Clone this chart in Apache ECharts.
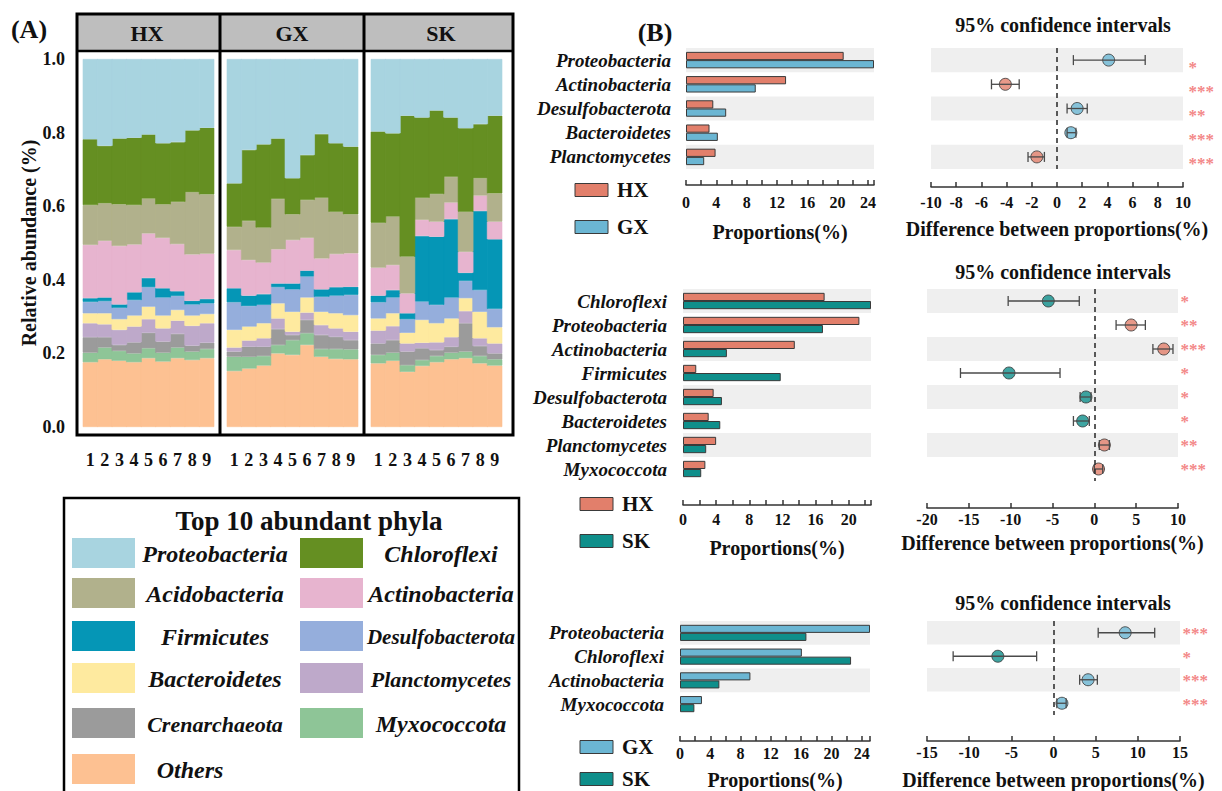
<!DOCTYPE html>
<html>
<head>
<meta charset="utf-8">
<title>Phylum composition and pairwise differences</title>
<script src="https://cdn.jsdelivr.net/npm/echarts@6/dist/echarts.min.js"></script>
<style>
  html, body { margin: 0; padding: 0; background: #ffffff; }
  #chart { width: 1222px; height: 791px; }
</style>
</head>
<body>
<div id="chart"></div>
<script>
// ---------------------------------------------------------------------------
// Data
// ---------------------------------------------------------------------------
const SITES = ['HX', 'GX', 'SK'];
const SAMPLES = ['1', '2', '3', '4', '5', '6', '7', '8', '9'];

// Stack order, bottom to top
const PHYLA = ['Others', 'Myxococcota', 'Crenarchaeota', 'Planctomycetes', 'Bacteroidetes',
  'Desulfobacterota', 'Firmicutes', 'Actinobacteria', 'Acidobacteria', 'Chloroflexi', 'Proteobacteria'];

// Relative abundance per sample: HX 1-9, GX 1-9, SK 1-9
const others = [
  0.176, 0.184, 0.180, 0.176, 0.187, 0.178, 0.187, 0.182, 0.187,
  0.152, 0.159, 0.167, 0.200, 0.196, 0.223, 0.191, 0.185, 0.184,
  0.173, 0.180, 0.150, 0.166, 0.176, 0.184, 0.187, 0.173, 0.167];
const myxococcota = [
  0.026, 0.032, 0.027, 0.024, 0.027, 0.024, 0.029, 0.023, 0.025,
  0.039, 0.032, 0.026, 0.023, 0.040, 0.032, 0.021, 0.027, 0.027,
  0.023, 0.022, 0.018, 0.016, 0.017, 0.018, 0.018, 0.020, 0.017];
const crenarchaeota = [
  0.042, 0.028, 0.016, 0.030, 0.042, 0.030, 0.037, 0.016, 0.017,
  0.014, 0.027, 0.025, 0.043, 0.014, 0.036, 0.038, 0.033, 0.025,
  0.031, 0.034, 0.037, 0.032, 0.016, 0.016, 0.077, 0.027, 0.016];
const planctomycetes = [
  0.038, 0.035, 0.041, 0.043, 0.037, 0.036, 0.036, 0.054, 0.053,
  0.011, 0.017, 0.023, 0.029, 0.009, 0.020, 0.027, 0.023, 0.023,
  0.035, 0.038, 0.022, 0.015, 0.021, 0.026, 0.033, 0.021, 0.027];
const bacteroidetes = [
  0.027, 0.030, 0.029, 0.030, 0.034, 0.035, 0.029, 0.028, 0.025,
  0.048, 0.038, 0.041, 0.041, 0.054, 0.041, 0.036, 0.041, 0.045,
  0.033, 0.035, 0.029, 0.062, 0.052, 0.051, 0.035, 0.072, 0.044];
const desulfobacterota = [
  0.031, 0.033, 0.031, 0.042, 0.053, 0.049, 0.038, 0.030, 0.029,
  0.075, 0.056, 0.050, 0.044, 0.061, 0.057, 0.041, 0.048, 0.055,
  0.044, 0.043, 0.037, 0.050, 0.050, 0.057, 0.047, 0.059, 0.050];
const firmicutes = [
  0.010, 0.010, 0.009, 0.021, 0.025, 0.025, 0.013, 0.010, 0.012,
  0.038, 0.028, 0.029, 0.010, 0.016, 0.016, 0.020, 0.023, 0.022,
  0.018, 0.020, 0.016, 0.178, 0.185, 0.213, 0.022, 0.215, 0.189];
const actinobacteria = [
  0.145, 0.154, 0.159, 0.130, 0.121, 0.137, 0.128, 0.126, 0.123,
  0.104, 0.097, 0.086, 0.093, 0.118, 0.089, 0.084, 0.090, 0.091,
  0.076, 0.068, 0.054, 0.044, 0.041, 0.045, 0.057, 0.042, 0.048];
const acidobacteria = [
  0.108, 0.102, 0.113, 0.107, 0.095, 0.091, 0.115, 0.169, 0.161,
  0.063, 0.106, 0.095, 0.137, 0.070, 0.103, 0.165, 0.115, 0.106,
  0.122, 0.132, 0.100, 0.060, 0.075, 0.070, 0.109, 0.047, 0.077];
const chloroflexi = [
  0.179, 0.156, 0.179, 0.183, 0.174, 0.166, 0.162, 0.168, 0.181,
  0.118, 0.193, 0.226, 0.164, 0.098, 0.122, 0.173, 0.186, 0.184,
  0.248, 0.226, 0.383, 0.218, 0.227, 0.161, 0.227, 0.147, 0.211];
const proteobacteria = [
  0.218, 0.236, 0.216, 0.214, 0.205, 0.229, 0.226, 0.194, 0.187,
  0.338, 0.247, 0.232, 0.216, 0.324, 0.261, 0.204, 0.229, 0.238,
  0.197, 0.202, 0.154, 0.159, 0.140, 0.159, 0.188, 0.177, 0.154];

// HX vs GX: mean proportions (%), difference and its 95% CI
const hxGxPhyla = ['Proteobacteria', 'Actinobacteria', 'Desulfobacterota', 'Bacteroidetes', 'Planctomycetes'];
const hxGxHX = [20.8, 13.2, 3.6, 3.1, 3.9];
const hxGxGX = [24.8, 9.2, 5.3, 4.2, 2.4];
const hxGxDiff = [4.1, -4.1, 1.6, 1.1, -1.6];
const hxGxLow = [1.3, -5.2, 0.8, 0.8, -2.3];
const hxGxHigh = [7.0, -3.0, 2.4, 1.5, -1.0];
const hxGxSig = ['*', '***', '**', '***', '***'];

// HX vs SK
const hxSkPhyla = ['Chloroflexi', 'Proteobacteria', 'Actinobacteria', 'Firmicutes',
  'Desulfobacterota', 'Bacteroidetes', 'Planctomycetes', 'Myxococcota'];
const hxSkHX = [17.1, 21.3, 13.5, 1.6, 3.7, 3.1, 4.0, 2.7];
const hxSkSK = [22.7, 16.9, 5.3, 11.8, 4.7, 4.5, 2.8, 2.2];
const hxSkDiff = [-5.5, 4.4, 8.3, -10.2, -1.0, -1.4, 1.2, 0.5];
const hxSkLow = [-10.3, 2.6, 7.0, -16.0, -1.7, -2.5, 0.6, 0.0];
const hxSkHigh = [-1.8, 6.1, 9.4, -4.1, -0.4, -0.6, 1.8, 1.0];
const hxSkSig = ['*', '**', '***', '*', '*', '*', '**', '***'];

// GX vs SK
const gxSkPhyla = ['Proteobacteria', 'Chloroflexi', 'Actinobacteria', 'Myxococcota'];
const gxSkGX = [25.1, 16.1, 9.3, 2.9];
const gxSkSK = [16.7, 22.6, 5.2, 1.9];
const gxSkDiff = [8.5, -6.6, 4.1, 1.0];
const gxSkLow = [5.3, -11.9, 3.1, 0.4];
const gxSkHigh = [12.0, -2.0, 5.2, 1.5];
const gxSkSig = ['***', '*', '***', '***'];

// ---------------------------------------------------------------------------
// Styles
// ---------------------------------------------------------------------------
const FONT = "'Liberation Serif', 'Times New Roman', serif";
const INK = '#111111';

const PHYLUM_COLORS = {
  Proteobacteria: '#A8D4E0',
  Chloroflexi: '#658F22',
  Acidobacteria: '#B1B18C',
  Actinobacteria: '#E7B4CF',
  Firmicutes: '#0596B6',
  Desulfobacterota: '#95AEDC',
  Bacteroidetes: '#FEEA9F',
  Planctomycetes: '#BEA9CA',
  Crenarchaeota: '#9B9B9B',
  Myxococcota: '#8EC597',
  Others: '#FDC192'
};
const GROUP_COLORS = { HX: '#E27F6B', GX: '#6BB6D3', SK: '#0F8F8B' };

const ABUNDANCE = {
  Others: others, Myxococcota: myxococcota, Crenarchaeota: crenarchaeota,
  Planctomycetes: planctomycetes, Bacteroidetes: bacteroidetes,
  Desulfobacterota: desulfobacterota, Firmicutes: firmicutes,
  Actinobacteria: actinobacteria, Acidobacteria: acidobacteria,
  Chloroflexi: chloroflexi, Proteobacteria: proteobacteria
};

const option = {
  animation: false,
  backgroundColor: '#ffffff',
  grid: [], xAxis: [], yAxis: [], series: [], graphic: []
};

function txt(x, y, text, size, extra) {
  return Object.assign({
    type: 'text', x: x, y: y, silent: true,
    style: Object.assign({
      text: text, fill: INK, font: 'bold ' + size + 'px ' + FONT,
      textAlign: 'center', textVerticalAlign: 'middle'
    }, (extra && extra.style) || {})
  }, (extra && extra.el) || {});
}

// ---------------------------------------------------------------------------
// (A) stacked composition per site
// ---------------------------------------------------------------------------
const facetLefts = [83, 227, 371];
SITES.forEach(function (site, i) {
  option.grid.push({ left: facetLefts[i], top: 59, width: 131, height: 368 });
  option.xAxis.push({
    type: 'category', gridIndex: i, data: SAMPLES,
    axisLine: { show: false }, axisTick: { show: false },
    axisLabel: { interval: 0, fontFamily: FONT, fontWeight: 'bold', fontSize: 18, color: INK, margin: 24 }
  });
  option.yAxis.push({
    type: 'value', gridIndex: i, min: 0, max: 1, interval: 0.2, show: i === 0,
    splitLine: { show: false }, axisLine: { show: false }, axisTick: { show: false },
    axisLabel: {
      formatter: function (v) { return v.toFixed(1); },
      fontFamily: FONT, fontWeight: 'bold', fontSize: 18, color: INK, margin: 18
    },
    name: i === 0 ? 'Relative abundance (%)' : '',
    nameLocation: 'middle', nameGap: 43, nameRotate: 90,
    nameTextStyle: { fontFamily: FONT, fontWeight: 'bold', fontSize: 20, color: INK }
  });
  PHYLA.forEach(function (p) {
    // columns slightly wider than their band so neighbouring samples butt together without seams
    option.series.push({
      type: 'bar', name: p, xAxisIndex: i, yAxisIndex: i, stack: site,
      barWidth: 15.6, silent: true,
      data: ABUNDANCE[p].slice(i * 9, i * 9 + 9),
      itemStyle: { color: PHYLUM_COLORS[p], borderColor: PHYLUM_COLORS[p], borderWidth: 0.6 }
    });
  });
});

// facet frame and strip headers
option.graphic.push(
  { type: 'rect', silent: true, shape: { x: 77, y: 14, width: 436, height: 37 }, style: { fill: '#BEBEBE' } },
  { type: 'rect', silent: true, shape: { x: 77, y: 14, width: 436, height: 421 }, style: { fill: 'none', stroke: '#000', lineWidth: 3 } },
  { type: 'line', silent: true, shape: { x1: 77, y1: 51, x2: 513, y2: 51 }, style: { stroke: '#000', lineWidth: 2.5 } },
  { type: 'line', silent: true, shape: { x1: 220, y1: 14, x2: 220, y2: 435 }, style: { stroke: '#000', lineWidth: 3 } },
  { type: 'line', silent: true, shape: { x1: 364, y1: 14, x2: 364, y2: 435 }, style: { stroke: '#000', lineWidth: 3 } }
);
[147, 292, 441].forEach(function (x, i) { option.graphic.push(txt(x, 33, SITES[i], 22)); });
option.graphic.push(txt(29, 29, '(A)', 26));
option.graphic.push(txt(655, 32, '(B)', 26));

// legend box
option.graphic.push(
  { type: 'rect', silent: true, shape: { x: 64, y: 498, width: 455, height: 300 }, style: { fill: 'none', stroke: '#000', lineWidth: 2.5 } },
  txt(309, 521, 'Top 10 abundant phyla', 27)
);
const legendOrder = PHYLA.slice().reverse();
const legendRowsY = [553, 593, 636, 678, 723, 769];
const legendLabelSize = { Desulfobacterota: 21, Crenarchaeota: 22, Planctomycetes: 22 };
legendOrder.forEach(function (p, k) {
  const col = k % 2, row = Math.floor(k / 2);
  const sx = col === 0 ? 72 : 300;
  const cy = legendRowsY[row];
  option.graphic.push({
    type: 'rect', silent: true,
    shape: { x: sx, y: cy - 15, width: 63, height: 30 },
    style: { fill: PHYLUM_COLORS[p] }
  });
  const size = legendLabelSize[p] || 24;
  const cx = p === 'Others' ? 190 : (col === 0 ? 215 : 441);
  option.graphic.push(txt(cx, cy + 1, p, size,
    { style: { font: 'italic bold ' + size + 'px ' + FONT } }));
});

// ---------------------------------------------------------------------------
// (B) pairwise comparisons: proportions + 95% confidence intervals
// ---------------------------------------------------------------------------
const axisText = { fontFamily: FONT, fontWeight: 'bold', fontSize: 16, color: INK };
const nameText = { fontFamily: FONT, fontWeight: 'bold', fontSize: 20, color: INK };
const axisLineStyle = { color: '#333', width: 1.5 };
const stripe = { show: true, areaStyle: { color: ['#EFEFEF', 'rgba(255,255,255,0)'] } };

function addComparison(c) {
  const gBar = option.grid.length;
  const gCi = gBar + 1;
  option.grid.push({ left: c.barLeft, top: c.top, width: c.barWidth, height: c.height });
  option.grid.push({ left: c.ciLeft, top: c.top, width: c.ciWidth, height: c.height });

  const xBar = option.xAxis.length;
  option.xAxis.push({
    type: 'value', gridIndex: gBar, min: 0, max: 'dataMax', interval: 2, offset: c.barOffset,
    splitLine: { show: false },
    axisLine: { show: true, lineStyle: axisLineStyle },
    axisTick: { show: true, inside: true, length: 5, lineStyle: axisLineStyle },
    axisLabel: Object.assign({
      margin: c.barLabelMargin,
      formatter: function (v) { return v % 4 === 0 ? String(v) : ''; }
    }, axisText),
    name: 'Proportions(%)', nameLocation: 'middle', nameGap: c.barNameGap, nameTextStyle: nameText
  });
  option.xAxis.push({
    type: 'value', gridIndex: gCi, min: c.ciMin, max: c.ciMax, interval: c.ciStep, offset: c.ciOffset,
    splitLine: { show: false },
    axisLine: { show: true, onZero: false, lineStyle: axisLineStyle },
    axisTick: { show: true, inside: true, length: 5, lineStyle: axisLineStyle },
    axisLabel: Object.assign({ margin: c.ciLabelMargin }, axisText),
    name: 'Difference between proportions(%)', nameLocation: 'middle', nameGap: c.ciNameGap,
    nameTextStyle: nameText
  });

  const yBar = option.yAxis.length;
  option.yAxis.push({
    type: 'category', gridIndex: gBar, data: c.phyla, inverse: true,
    axisLine: { show: false }, axisTick: { show: false }, splitArea: stripe,
    axisLabel: {
      interval: 0, fontFamily: FONT, fontStyle: 'italic', fontWeight: 'bold',
      fontSize: 19, color: INK, margin: c.catMargin
    }
  });
  option.yAxis.push({
    type: 'category', gridIndex: gCi, data: c.phyla, inverse: true,
    axisLine: { show: false }, axisTick: { show: false },
    axisLabel: { show: false, interval: 0 }, splitArea: stripe
  });

  [c.a, c.b].forEach(function (vals, k) {
    option.series.push({
      type: 'bar', name: c.groups[k], xAxisIndex: xBar, yAxisIndex: yBar, data: vals,
      barGap: '0%', barCategoryGap: '32%', silent: true,
      itemStyle: { color: GROUP_COLORS[c.groups[k]], borderColor: '#3A3A3A', borderWidth: 1 }
    });
  });

  // difference points, coloured by the group with the larger proportion
  option.series.push({
    type: 'scatter', xAxisIndex: xBar + 1, yAxisIndex: yBar + 1, symbolSize: 12, z: 3, silent: true,
    data: c.diff.map(function (d, i) {
      const g = c.a[i] >= c.b[i] ? c.groups[0] : c.groups[1];
      return { value: [d, i], itemStyle: { color: GROUP_COLORS[g] } };
    }),
    itemStyle: { borderColor: '#333', borderWidth: 1 },
    markLine: {
      silent: true, symbol: 'none', label: { show: false },
      lineStyle: { type: [5, 4], color: '#333', width: 1.6 },
      data: [{ xAxis: 0 }]
    }
  });

  // confidence interval whiskers
  option.series.push({
    type: 'custom', xAxisIndex: xBar + 1, yAxisIndex: yBar + 1, z: 4, silent: true,
    data: c.low.map(function (l, i) { return [l, c.high[i], i]; }),
    encode: { x: [0, 1], y: 2 },
    renderItem: function (params, api) {
      const lo = api.coord([api.value(0), api.value(2)]);
      const hi = api.coord([api.value(1), api.value(2)]);
      const h = 5;
      const st = { stroke: '#4A4A4A', lineWidth: 1.3 };
      return {
        type: 'group', children: [
          { type: 'line', shape: { x1: lo[0], y1: lo[1], x2: hi[0], y2: hi[1] }, style: st },
          { type: 'line', shape: { x1: lo[0], y1: lo[1] - h, x2: lo[0], y2: lo[1] + h }, style: st },
          { type: 'line', shape: { x1: hi[0], y1: hi[1] - h, x2: hi[0], y2: hi[1] + h }, style: st }
        ]
      };
    }
  });

  // significance marks at the right edge
  option.series.push({
    type: 'scatter', xAxisIndex: xBar + 1, yAxisIndex: yBar + 1, symbolSize: 1, silent: true,
    itemStyle: { color: 'rgba(0,0,0,0)' },
    data: c.sig.map(function (s, i) { return [c.ciMax, i]; }),
    label: {
      show: true, position: 'right', distance: c.starGap, offset: [0, c.starDy],
      formatter: function (p) { return c.sig[p.dataIndex]; },
      color: '#F06767', fontFamily: FONT, fontWeight: 'bold', fontSize: 17
    }
  });

  // title and group key
  option.graphic.push(txt(1063, c.titleY, '95% confidence intervals', 20));
  c.groups.forEach(function (g, k) {
    option.graphic.push({
      type: 'rect', silent: true,
      shape: { x: c.keyX, y: c.keyY[k] - 6.5, width: 33, height: 13 },
      style: { fill: GROUP_COLORS[g], stroke: '#3A3A3A', lineWidth: 1 }
    });
    option.graphic.push(txt(c.keyX + 42, c.keyY[k], g, 21, { style: { textAlign: 'left' } }));
  });
}

addComparison({
  phyla: hxGxPhyla, groups: ['HX', 'GX'], a: hxGxHX, b: hxGxGX,
  diff: hxGxDiff, low: hxGxLow, high: hxGxHigh, sig: hxGxSig,
  top: 48, height: 121,
  barLeft: 686, barWidth: 188, barOffset: 16, barLabelMargin: 9, barNameGap: 37, catMargin: 15,
  ciLeft: 931, ciWidth: 252, ciOffset: 18, ciLabelMargin: 7, ciNameGap: 32,
  ciMin: -10, ciMax: 10, ciStep: 2, starGap: 5, starDy: 7,
  titleY: 25, keyX: 575, keyY: [190, 227]
});
addComparison({
  phyla: hxSkPhyla, groups: ['HX', 'SK'], a: hxSkHX, b: hxSkSK,
  diff: hxSkDiff, low: hxSkLow, high: hxSkHigh, sig: hxSkSig,
  top: 289, height: 192,
  barLeft: 683, barWidth: 188, barOffset: 24, barLabelMargin: 6, barNameGap: 33, catMargin: 16,
  ciLeft: 927, ciWidth: 251, ciOffset: 27, ciLabelMargin: 3, ciNameGap: 25,
  ciMin: -20, ciMax: 10, ciStep: 5, starGap: 2, starDy: 0,
  titleY: 272, keyX: 580, keyY: [504, 541]
});
addComparison({
  phyla: gxSkPhyla, groups: ['GX', 'SK'], a: gxSkGX, b: gxSkSK,
  diff: gxSkDiff, low: gxSkLow, high: gxSkHigh, sig: gxSkSig,
  top: 621, height: 97,
  barLeft: 680, barWidth: 190, barOffset: 25, barLabelMargin: 4, barNameGap: 29, catMargin: 16,
  ciLeft: 927, ciWidth: 253, ciOffset: 26, ciLabelMargin: 3, ciNameGap: 29,
  ciMin: -15, ciMax: 15, ciStep: 5, starGap: 2, starDy: 1,
  titleY: 603, keyX: 580, keyY: [747, 779]
});

const chart = echarts.init(document.getElementById('chart'), null, { renderer: 'svg', width: 1222, height: 791 });
chart.setOption(option);
</script>
</body>
</html>
